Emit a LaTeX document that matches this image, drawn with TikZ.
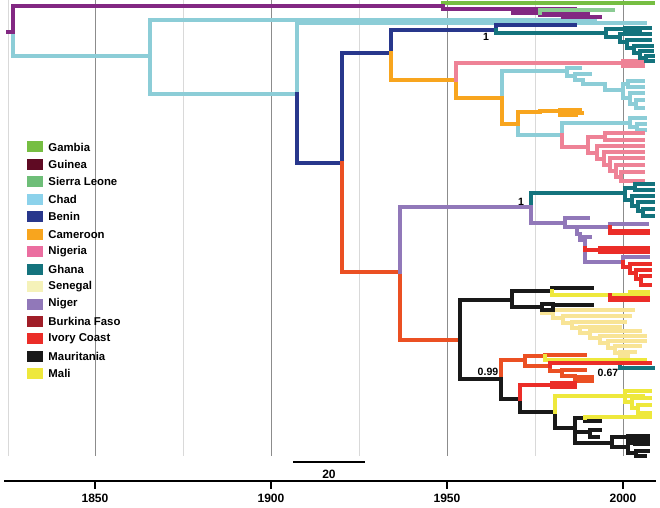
\documentclass[tikz,border=0pt]{standalone}
\usepackage{fontspec}
\setmainfont{Liberation Sans}
\usetikzlibrary{positioning}
\definecolor{Gambia}{RGB}{118,190,66}
\definecolor{Guinea}{RGB}{95,10,35}
\definecolor{SierraLeone}{RGB}{110,190,120}
\definecolor{Chad}{RGB}{140,210,235}
\definecolor{Benin}{RGB}{40,55,140}
\definecolor{Cameroon}{RGB}{248,165,30}
\definecolor{Nigeria}{RGB}{235,110,160}
\definecolor{Ghana}{RGB}{20,115,125}
\definecolor{Senegal}{RGB}{245,242,185}
\definecolor{Niger}{RGB}{145,120,185}
\definecolor{Burkina}{RGB}{160,30,40}
\definecolor{Ivory}{RGB}{235,45,40}
\definecolor{Mauritania}{RGB}{25,25,25}
\definecolor{Mali}{RGB}{238,232,60}
% branch colours as drawn in the tree
\definecolor{GuineaBr}{RGB}{130,40,130}
\definecolor{ChadBr}{RGB}{140,205,215}
\definecolor{NigeriaBr}{RGB}{238,130,150}
\definecolor{SenegalBr}{RGB}{248,228,150}
\definecolor{AncBr}{RGB}{235,80,35}

\begin{document}
\begin{tikzpicture}[x=0.03cm,y=-0.03cm,
  br/.style={line width=2.6pt,line cap=rect},
  gridln/.style={line width=0.6pt},
  legbox/.style={minimum width=0.48cm,minimum height=0.33cm,inner sep=0pt},
  legtext/.style={font=\fontsize{9.7}{11}\selectfont\bfseries,inner sep=0pt,anchor=west},
  support/.style={font=\fontsize{9}{10}\selectfont\bfseries,inner sep=0pt},
  yearlbl/.style={font=\fontsize{10.3}{12}\selectfont\bfseries,inner sep=0pt}
]
  \useasboundingbox (0,0) rectangle (660,508);

  % time grid
  \foreach \gx in {8,183,359,535}
    \draw[gridln,black!15] (\gx,0) -- (\gx,456);
  \foreach \gx in {95,271,447,623}
    \draw[gridln,black!45] (\gx,0) -- (\gx,456);

  % tree: parent x/y / child x/y
  \foreach \xa/\ya/\xb/\yb in {13/32/150/56,150/56/595/20,150/56/297/94,297/94/645/23,
      502/98/567/71,567/71/580/68,567/71/575/76,575/76/590/74,575/76/583/80,583/80/605/84,
      605/84/623/90,623/90/628/84,628/84/643/81,628/84/643/87,623/90/630/98,630/98/643/93,
      630/98/636/104,636/104/643/100,636/104/643/108,
      518/124/562/135,562/135/630/123,630/123/645/118,630/123/637/127,637/127/645/124,637/127/645/130}
    \draw[br,ChadBr] (\xa,\ya) |- (\xb,\yb);
  \draw[br,Gambia] (443,6) |- (653,3);
  \foreach \xa/\ya/\xb/\yb in {8/32/13/32,13/32/443/6,443/6/513/9,513/9/575/9,513/9/540/13,
      540/13/588/13,540/13/563/15,563/15/600/17,563/15/580/14}
    \draw[br,GuineaBr] (\xa,\ya) |- (\xb,\yb);
  \draw[br,SierraLeone!80] (540,13) |- (613,10);
  \foreach \xa/\ya/\xb/\yb in {297/94/342/163,342/163/391/53,391/53/496/30,496/30/575/25}
    \draw[br,Benin] (\xa,\ya) |- (\xb,\yb);
  \foreach \xa/\ya/\xb/\yb in {391/53/456/80,456/80/502/98,502/98/518/124,518/124/540/112,
      540/112/560/111,560/111/580/110,560/111/582/113,560/111/576/115}
    \draw[br,Cameroon] (\xa,\ya) |- (\xb,\yb);
  \foreach \xa/\ya/\xb/\yb in {456/80/623/63,623/63/643/61,623/63/643/64,623/63/643/66,
      562/135/588/147,588/147/605/137,605/137/643/133,605/137/643/140,588/147/597/153,
      597/153/643/146,597/153/604/159,604/159/643/152,604/159/610/165,610/165/643/158,
      610/165/616/171,616/171/643/165,616/171/621/177,621/177/643/172,621/177/643/181}
    \draw[br,NigeriaBr] (\xa,\ya) |- (\xb,\yb);
  \foreach \xa/\ya/\xb/\yb in {496/30/606/33,606/33/625/29,625/29/650/28,625/29/640/31,
      606/33/620/37,620/37/650/34,620/37/627/42,627/42/650/40,627/42/634/48,634/48/652/46,
      634/48/640/53,640/53/652/51,640/53/646/58,646/58/653/56,646/58/653/61,
      531/207/625/193,625/193/635/188,635/188/653/184,635/188/653/190,625/193/632/200,
      632/200/653/196,632/200/638/206,638/206/653/202,638/206/643/211,643/211/653/209,
      643/211/653/216,620/364/653/368}
    \draw[br,Ghana] (\xa,\ya) |- (\xb,\yb);
  \foreach \xa/\ya/\xb/\yb in {342/163/400/272,400/272/460/340,501/379/525/360,525/360/545/356,
      545/356/585/355,525/360/550/366,550/366/562/371,562/371/585/370,562/371/575/376,
      575/376/592/377,575/376/592/381}
    \draw[br,AncBr] (\xa,\ya) |- (\xb,\yb);
  \foreach \xa/\ya/\xb/\yb in {400/272/531/207,531/207/565/223,565/223/577/218,577/218/588/218,
      565/223/577/227,577/227/610/227,610/227/647/224,577/227/580/234,580/234/590/237,
      580/234/585/240,585/240/623/262,623/262/648/257}
    \draw[br,Niger] (\xa,\ya) |- (\xb,\yb);
  \foreach \xa/\ya/\xb/\yb in {542/307/553/313,553/313/633/310,553/313/563/318,563/318/630/316,
      563/318/572/323,572/323/625/322,572/323/580/328,580/328/620/327,580/328/590/333,
      590/333/640/331,590/333/600/338,600/338/645/336,600/338/608/343,608/343/645/341,
      608/343/615/348,615/348/640/346,615/348/620/353,620/353/635/352,620/353/628/356}
    \draw[br,SenegalBr] (\xa,\ya) |- (\xb,\yb);
  \foreach \xa/\ya/\xb/\yb in {460/340/512/300,460/340/501/379,512/300/552/291,552/291/592/288,
      512/300/542/307,542/307/553/304,553/304/592/305,542/307/553/310,553/304/553/310,
      501/379/520/399,520/399/555/412,555/412/575/428,575/428/585/418,585/418/600/421,
      575/428/590/432,590/432/600/430,590/432/598/437,575/428/612/443,612/443/628/437,
      628/437/648/436,628/437/648/440,612/443/628/447,628/447/635/443,635/443/648/444,
      628/447/636/453,636/453/648/451,636/453/645/456}
    \draw[br,Mauritania] (\xa,\ya) |- (\xb,\yb);
  \foreach \xa/\ya/\xb/\yb in {552/291/648/295,630/295/648/292,545/356/645/360,555/412/643/396,
      625/396/650/391,625/396/632/402,632/402/650/398,632/402/638/408,638/408/650/405,
      638/408/650/413,585/418/650/417}
    \draw[br,Mali] (\xa,\ya) |- (\xb,\yb);
  \foreach \xa/\ya/\xb/\yb in {610/227/648/231,610/227/648/233,585/248/600/250,600/250/648/248,
      600/250/648/252,623/262/630/267,630/267/650/264,630/267/636/273,636/273/650/270,
      636/273/641/279,641/279/650/276,641/279/650/285,610/295/648/298,610/295/648/300,
      520/399/552/385,552/385/575/383,552/385/575/387,550/366/650/363}
    \draw[br,Ivory] (\xa,\ya) |- (\xb,\yb);

  % posterior support
  \node[support] (pp1) at (486,37) {1};
  \node[support] (pp2) at (521,202) {1};
  \node[support] (pp3) at (488,372) {0.99};
  \node[support] (pp4) at (608,373) {0.67};

  % legend
  \foreach \cname/\ctext [count=\i] in {Gambia/Gambia,Guinea/Guinea,SierraLeone/Sierra Leone,
      Chad/Chad,Benin/Benin,Cameroon/Cameroon,Nigeria/Nigeria,Ghana/Ghana,Senegal/Senegal,
      Niger/Niger,Burkina/Burkina Faso,Ivory/Ivory Coast,Mauritania/Mauritania,Mali/Mali} {
    \node[legbox,fill=\cname] (leg\i) at (35,{147+17.45*(\i-1)}) {};
    \node[legtext,right=0.15cm of leg\i] (lab\i) {\ctext};
  }

  % scale bar
  \coordinate (sbL) at (293,462);
  \coordinate (sbR) at (365,462);
  \draw[line width=2.4pt] (sbL) -- (sbR);
  \node[yearlbl] (sbtxt) at (329,474) {20};

  % time axis
  \coordinate (axL) at (4,481);
  \coordinate (axR) at (656,481);
  \draw[line width=2.4pt] (axL) -- (axR);
  \foreach \yr/\tx in {1850/95,1900/271,1950/447,2000/623} {
    \draw[line width=2.2pt] (\tx,481) -- (\tx,489);
    \node[yearlbl] (yr\yr) at (\tx,498) {\yr};
  }
\end{tikzpicture}
\end{document}
